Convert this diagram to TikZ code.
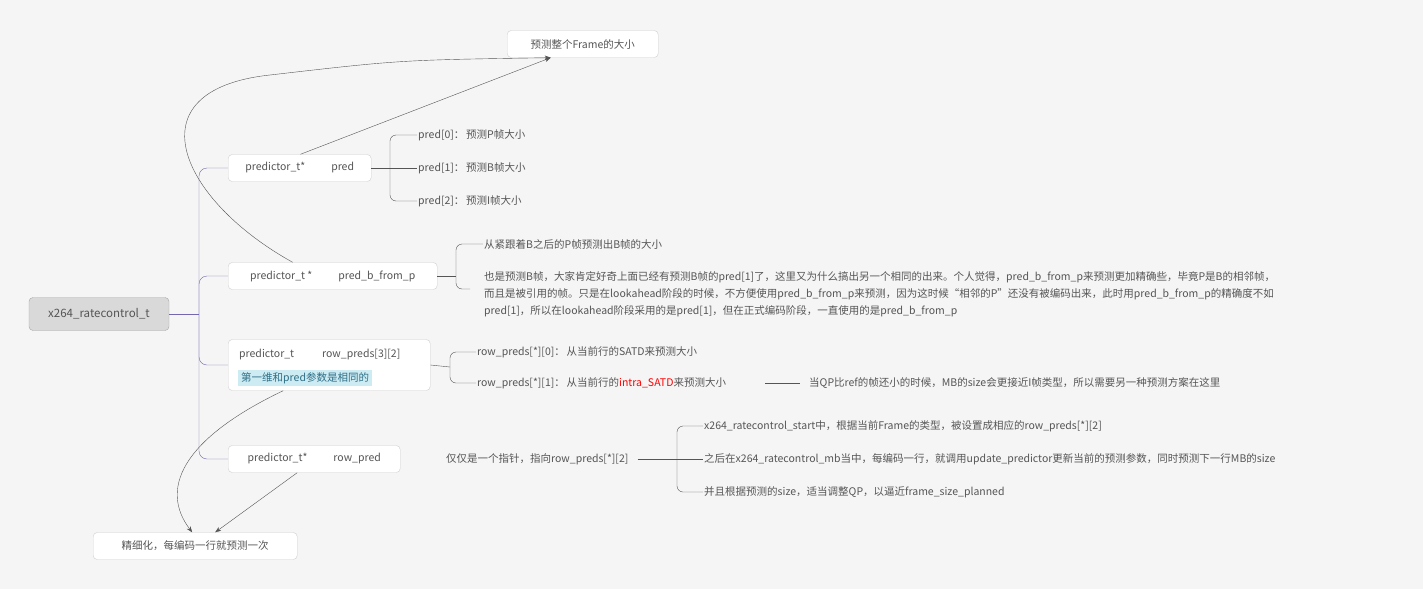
\documentclass[tikz,border=0pt]{standalone}
\usepackage{fontspec}
\setmainfont{Noto Sans CJK SC}
\usetikzlibrary{arrows.meta, positioning}
\definecolor{bgcol}{HTML}{F5F5F5}
\definecolor{txtcol}{HTML}{555555}
\definecolor{edgecol}{HTML}{CFCFCF}
\definecolor{treecol}{HTML}{7566B0}
\definecolor{linkcol}{HTML}{555555}
\definecolor{hicol}{HTML}{CDEBF3}
\definecolor{hitext}{HTML}{2F6F86}
\begin{document}
\begin{tikzpicture}[x=1pt, y=-1pt, font=\fontsize{10.5}{12}\selectfont, text=txtcol,
  topic/.style={draw=edgecol, fill=white, rounded corners=4pt, inner xsep=10pt, minimum height=27pt, anchor=west},
  rootbox/.style={draw=edgecol!80!black, fill=black!15, rounded corners=4pt, minimum width=140pt, minimum height=33pt, font=\fontsize{11.5}{13}\selectfont},
  leaf/.style={anchor=west, inner sep=1pt},
  tree/.style={treecol, thin, rounded corners=8pt},
  bracket/.style={linkcol, thin, rounded corners=6pt},
  link/.style={linkcol, thin, -{Stealth[length=6pt]}}]
\useasboundingbox[fill=bgcol] (0,0) rectangle (1423,589);

% main topics
\node[rootbox] (root) at (99,314) {x264\_ratecontrol\_t};
\node[topic, minimum width=143pt] (pred) at (228,168) {predictor\_t*\hspace{26pt}pred};
\node[topic, minimum width=209pt] (bfromp) at (228,276) {predictor\_t *\hspace{26pt}pred\_b\_from\_p};
\node[topic, minimum height=51pt, minimum width=202pt] (rowpreds) at (228,365) {};
\node[leaf] (rp1) at (238,355) {predictor\_t\hspace{28pt}row\_preds[3][2]};
\node[leaf, fill=hicol, text=hitext, inner xsep=3pt, inner ysep=2pt] (rp2) at (238,378) {第一维和pred参数是相同的};
\node[topic, minimum width=172pt] (rowpred) at (228,459) {predictor\_t*\hspace{26pt}row\_pred};

% notes
\node[topic, minimum width=151pt] (frame) at (507,44) {预测整个Frame的大小};
\node[topic, minimum width=204pt] (finer) at (93,546) {精细化，每编码一行就预测一次};

% tree
\coordinate (trunk) at (199,314);
\draw[tree] (root.east) -- (trunk);
\draw[tree] (trunk) |- (pred.west);
\draw[tree] (trunk) |- (bfromp.west);
\draw[tree] (trunk) |- (rowpreds.west);
\draw[tree] (trunk) |- (rowpred.west);

% pred
\node[leaf] (p0) at (417,135) {pred[0]：\,预测P帧大小};
\node[leaf] (p1) at (417,168) {pred[1]：\,预测B帧大小};
\node[leaf] (p2) at (417,201) {pred[2]：\,预测I帧大小};
\draw[bracket] (pred.east) -- (390,168);
\draw[bracket] (p0.west) -- (390,135) -- (390,201) -- (p2.west);
\draw[bracket] (390,168) -- (p1.west);

% pred_b_from_p
\node[leaf] (b0) at (483,244) {从紧跟着B之后的P帧预测出B帧的大小};
\node[leaf, anchor=north west, align=left, font=\fontsize{10.5}{17}\selectfont] (b1) at (483,270)
  {也是预测B帧，大家肯定好奇上面已经有预测B帧的pred[1]了，这里又为什么搞出另一个相同的出来。个人觉得，pred\_b\_from\_p来预测更加精确些，毕竟P是B的相邻帧，\\
   而且是被引用的帧。只是在lookahead阶段的时候，不方便使用pred\_b\_from\_p来预测，因为这时候“相邻的P”还没有被编码出来，此时用pred\_b\_from\_p的精确度不如\\
   pred[1]，所以在lookahead阶段采用的是pred[1]，但在正式编码阶段，一直使用的是pred\_b\_from\_p};
\draw[bracket] (bfromp.east) -- (456,276);
\draw[bracket] (b0.west) -- (456,244) -- (456,289) -- (470,289);

% row_preds
\node[leaf] (r0) at (476,352) {row\_preds[*][0]：\,从当前行的SATD来预测大小};
\node[leaf] (r1) at (476,383) {row\_preds[*][1]：\,从当前行的\textcolor{red}{intra\_SATD}来预测大小};
\node[leaf] (r2) at (808,383) {当QP比ref的帧还小的时候，MB的size会更接近I帧类型，所以需要另一种预测方案在这里};
\draw[bracket] (rowpreds.east) -- (450,367);
\draw[bracket] (r0.west) -- (450,352) -- (450,383) -- (r1.west);
\draw[linkcol, thin] (765,383) -- (800,383);

% row_pred
\node[leaf] (ptr) at (445,459) {仅仅是一个指针，指向row\_preds[*][2]};
\node[leaf] (s0) at (703,426) {x264\_ratecontrol\_start中，根据当前Frame的类型，被设置成相应的row\_preds[*][2]};
\node[leaf] (s1) at (703,459) {之后在x264\_ratecontrol\_mb当中，每编码一行，就调用update\_predictor更新当前的预测参数，同时预测下一行MB的size};
\node[leaf] (s2) at (703,492) {并且根据预测的size，适当调整QP，以逼近frame\_size\_planned};
\draw[bracket] (ptr.east) ++(8,0) -- (677,459);
\draw[bracket] (s0.west) -- (677,426) -- (677,492) -- (s2.west);
\draw[bracket] (677,459) -- (s1.west);

% summary arrows
\draw[link] (pred.north east) ++(-71,0) -- ([xshift=-32pt]frame.south);
\draw[link] (bfromp.north) ++(-40,0) .. controls (180,200) and (130,90) .. (270,75) .. controls (400,60) .. ([xshift=-32pt]frame.south);
\draw[link] (rowpreds.south) ++(-46,0) .. controls (180,440) and (160,490) .. ([xshift=-3pt]finer.north);
\draw[link] (rowpred.south) ++(-17,0) -- ([xshift=20pt]finer.north);
\end{tikzpicture}
\end{document}
